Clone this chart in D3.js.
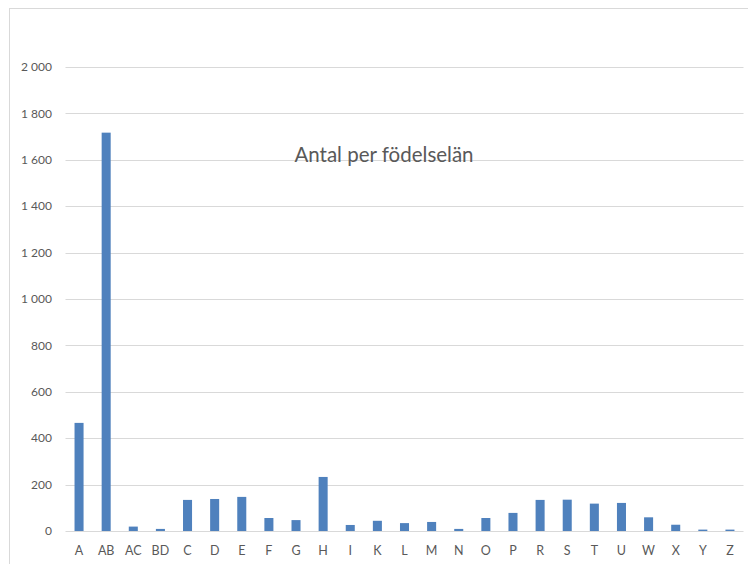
<!DOCTYPE html>
<meta charset="utf-8">
<style>
body { margin: 0; background: #fff; }
text { font-family: Lato, "Open Sans", sans-serif; fill: #595959; }
.grid line { stroke: #d9d9d9; }
</style>
<svg width="748" height="564"></svg>
<script src="https://cdn.jsdelivr.net/npm/d3@7"></script>
<script>

var categories = ["A", "AB", "AC", "BD", "C", "D", "E", "F", "G", "H", "I", "K", "L",
                  "M", "N", "O", "P", "R", "S", "T", "U", "W", "X", "Y", "Z"];
var counts = [466, 1717, 19, 9, 134, 138, 147, 56, 47, 233, 26, 44, 34,
              39, 9, 56, 78, 134, 135, 118, 121, 59, 27, 6, 6];
var yTicks = [0, 200, 400, 600, 800, 1000, 1200, 1400, 1600, 1800, 2000];
var title = "Antal per födelselän";

var svg = d3.select("svg");

// chart area border
svg.append("rect")
    .attr("x", 9.5).attr("y", 8.5)
    .attr("width", 760).attr("height", 580)
    .attr("fill", "none")
    .attr("stroke", "#d9d9d9");

var plot = {left: 65.5, right: 743.5, top: 67, bottom: 531};

var x = d3.scaleBand().domain(categories).range([plot.left, plot.right]).paddingInner(0.667).paddingOuter(0.333);
var y = d3.scaleLinear().domain([0, 2000]).range([plot.bottom, plot.top]);

var fmt = function(d) { return d3.format(",")(d).replace(",", " "); };

// gridlines
svg.append("g").attr("class", "grid")
  .selectAll("line")
  .data(yTicks)
  .enter().append("line")
    .attr("x1", plot.left).attr("x2", plot.right)
    .attr("y1", function(d) { return Math.round(y(d)) + 0.5; })
    .attr("y2", function(d) { return Math.round(y(d)) + 0.5; });

// y labels
svg.append("g")
  .selectAll("text")
  .data(yTicks)
  .enter().append("text")
    .attr("x", 52)
    .attr("y", function(d) { return y(d); })
    .attr("dy", "0.35em")
    .attr("text-anchor", "end")
    .style("font-size", "12px")
    .text(fmt);

// bars
svg.append("g")
  .selectAll("rect")
  .data(counts)
  .enter().append("rect")
    .attr("x", function(d, i) { return x(categories[i]); })
    .attr("y", function(d) { return y(d); })
    .attr("width", x.bandwidth())
    .attr("height", function(d) { return plot.bottom - y(d); })
    .attr("fill", "#4f81bd");

// x labels
svg.append("g")
  .selectAll("text")
  .data(categories)
  .enter().append("text")
    .attr("x", function(d) { return x(d) + x.bandwidth() / 2; })
    .attr("y", 551)
    .attr("dy", "0.35em")
    .attr("text-anchor", "middle")
    .style("font-size", "12.5px")
    .text(function(d) { return d; });

svg.append("text")
    .attr("x", 384)
    .attr("y", 155)
    .attr("dy", "0.35em")
    .attr("text-anchor", "middle")
    .style("font-size", "20.5px")
    .text(title);

</script>
